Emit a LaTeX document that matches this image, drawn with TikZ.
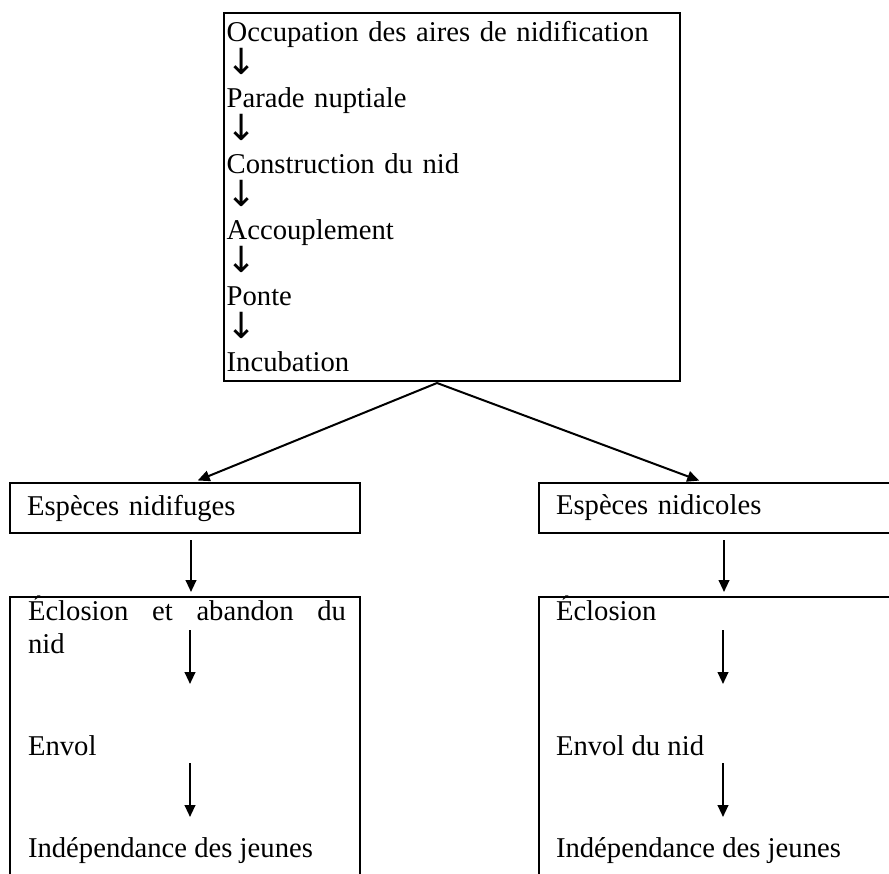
\documentclass[tikz,border=0pt]{standalone}
\usepackage{fontspec}
\setmainfont{Liberation Serif}
\newfontfamily\arrowfont{DejaVu Sans}
\usetikzlibrary{arrows.meta}

\setlength{\lineskiplimit}{-50pt}
\newcommand{\dn}{{\arrowfont\fontsize{27}{24.75}\selectfont ↓}}

\begin{document}
\begin{tikzpicture}[x=0.75pt,y=-0.75pt,line width=1.5pt,>={Triangle[length=9pt,width=8pt]},
    font=\fontsize{21.5}{24.75}\selectfont]
    \tikzstyle{box}=[draw,rectangle,anchor=north west,inner sep=0pt]
    \tikzstyle{cycle box}=[box,minimum width=342pt,minimum height=276pt,inner xsep=2pt,text width=338pt,align=left]
    \tikzstyle{group box}=[box,minimum height=37.5pt,inner xsep=12.75pt,align=left]
    \tikzstyle{stage}=[anchor=base west,inner sep=0pt]
    \tikzstyle{flow}=[->]

    \useasboundingbox (0,0) rectangle (889,874);

    % Draw the common part of the cycle
    \node[cycle box] (cycle) at (223,12) {Occupation des aires de nidification\\ \dn\\ Parade nuptiale\\ \dn\\
        Construction du nid\\ \dn\\ Accouplement\\ \dn\\ Ponte\\ \dn\\ Incubation};

    % Draw the two kinds of species
    \node[group box,minimum width=262.5pt,text width=237pt] (nidifuges) at (9,482) {Espèces nidifuges};
    \node[group box,minimum width=271.5pt,text width=246pt] (nidicoles) at (538,482) {Espèces nidicoles};

    % Draw the lower boxes (cut by the page)
    \node[box,minimum width=262.5pt,minimum height=217.5pt] (hatchL) at (9,596) {};
    \node[box,minimum width=271.5pt,minimum height=217.5pt] (hatchR) at (538,596) {};

    \node[stage,text width=238.5pt,align=justify] (ecloL) at (27,620) {Éclosion et abandon du\linebreak nid};
    \node[stage] (envolL) at (27,755) {Envol};
    \node[stage] (indepL) at (27,857) {Indépendance des jeunes};
    \node[stage] (ecloR) at (555,620) {Éclosion};
    \node[stage] (envolR) at (555,755) {Envol du nid};
    \node[stage] (indepR) at (555,857) {Indépendance des jeunes};

    % Connect the boxes
    \coordinate (split) at (437,383);
    \draw[flow,shorten >=3pt] (split) -- ([xshift=6.75pt]nidifuges.north);
    \draw[flow,shorten >=3pt] (split) -- ([xshift=-12.75pt]nidicoles.north);
    \draw[flow,shorten <=4.5pt,shorten >=3pt] ([xshift=4.5pt]nidifuges.south) -- ([xshift=4.5pt]hatchL.north);
    \draw[flow,shorten <=4.5pt,shorten >=3pt] ([xshift=3pt]nidicoles.south) -- ([xshift=3pt]hatchR.north);

    % Arrows inside the lower boxes
    \coordinate (L-1) at (190,630);
    \coordinate (L-2) at (190,684);
    \coordinate (L-3) at (190,763);
    \coordinate (L-4) at (190,817);
    \coordinate (R-1) at (723,630);
    \coordinate (R-2) at (723,684);
    \coordinate (R-3) at (723,763);
    \coordinate (R-4) at (723,817);
    \draw[flow] (L-1) -- (L-2);
    \draw[flow] (L-3) -- (L-4);
    \draw[flow] (R-1) -- (R-2);
    \draw[flow] (R-3) -- (R-4);
\end{tikzpicture}
\end{document}
